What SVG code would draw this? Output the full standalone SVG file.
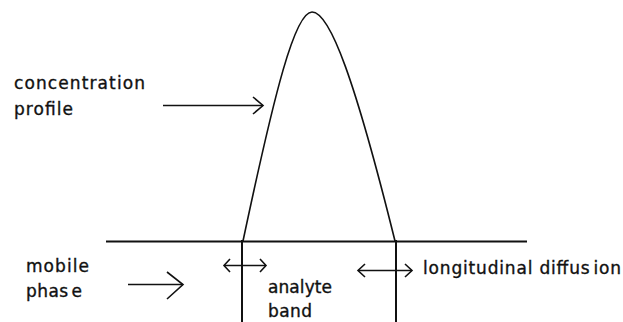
<svg xmlns="http://www.w3.org/2000/svg" width="623" height="322" viewBox="0 0 623 322">
<style>
.ln{stroke:#111;stroke-width:2;fill:none;stroke-linecap:square}
.th{stroke:#111;stroke-width:1.6;fill:none;stroke-linejoin:miter}
.t{font-family:"DejaVu Sans","Liberation Sans",sans-serif;font-size:17px;fill:#111;stroke:#111;stroke-width:0.35}
</style>
<rect width="623" height="322" fill="#fff"/>
<g id="column">
<line class="ln" x1="107" y1="241.5" x2="526" y2="241.5"/>
<line class="ln" x1="242" y1="241" x2="242" y2="322"/>
<line class="ln" x1="396" y1="241" x2="396" y2="322"/>
</g>
<g id="profile">
<path class="th" d="M243,241 C275,90 295,12 312,12 C330,12 355,80 395,241"/>
</g>
<g id="labels">
<text class="t" x="14" y="89" textLength="131" lengthAdjust="spacing">concentration</text>
<text class="t" x="14" y="115" textLength="59" lengthAdjust="spacing">profile</text>
<text class="t" x="26" y="272" textLength="63" lengthAdjust="spacing">mobile</text>
<text class="t" x="26" y="297" textLength="56" lengthAdjust="spacing">phas<tspan dx="3">e</tspan></text>
<text class="t" x="268" y="293" textLength="64" lengthAdjust="spacing">analyte</text>
<text class="t" x="268" y="317" textLength="44" lengthAdjust="spacing">band</text>
<text class="t" x="423" y="274" textLength="198" lengthAdjust="spacing">longitudinal diffus<tspan dx="3">ion</tspan></text>
</g>
<g id="connectors">
<line class="th" x1="163" y1="105.5" x2="263" y2="105.5"/>
<polyline class="th" points="253,97 263,105.5 253,114"/>
<line class="th" x1="128" y1="284.5" x2="183" y2="284.5"/>
<polyline class="th" points="167,272 183,284.5 167,299"/>
<line class="th" x1="224" y1="265.5" x2="266" y2="265.5"/>
<polyline class="th" points="230,259 224,265.5 230,272"/>
<polyline class="th" points="260,259 266,265.5 260,272"/>
<line class="th" x1="358" y1="270.5" x2="412" y2="270.5"/>
<polyline class="th" points="365,264 358,270.5 365,277"/>
<polyline class="th" points="405,264 412,270.5 405,277"/>
</g>
</svg>
